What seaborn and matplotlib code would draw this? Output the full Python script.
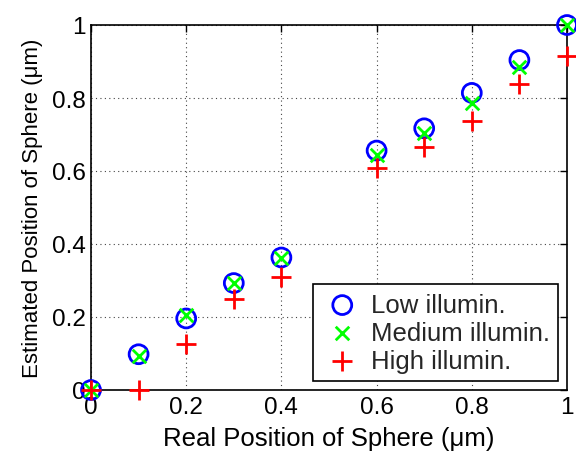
import matplotlib
matplotlib.use("Agg")
import matplotlib.pyplot as plt
import seaborn as sns
import pandas as pd

real_pos = [0.0, 0.1, 0.2, 0.3, 0.4, 0.6, 0.7, 0.8, 0.9, 1.0]
low_illum = [0.0, 0.098, 0.196, 0.293, 0.363, 0.656, 0.717, 0.814, 0.904, 1.0]
medium_illum = [0.0, 0.094, 0.205, 0.293, 0.363, 0.645, 0.704, 0.786, 0.886, 1.0]
high_illum = [0.0, 0.0, 0.126, 0.249, 0.310, 0.607, 0.667, 0.736, 0.838, 0.916]
tick_vals = [0, 0.2, 0.4, 0.6, 0.8, 1]
tick_labels = ["0", "0.2", "0.4", "0.6", "0.8", "1"]

sns.set_theme(style="white")
plt.rcParams['font.family'] = ['Liberation Sans', 'DejaVu Sans']

fig = plt.figure(figsize=(5.76, 4.56), dpi=100)
ax = fig.add_axes([91/576, 1 - 391/456, (567 - 91)/576, (391 - 26)/456])

df_low = pd.DataFrame({"x": real_pos, "y": low_illum})
df_med = pd.DataFrame({"x": real_pos, "y": medium_illum})
df_high = pd.DataFrame({"x": real_pos, "y": high_illum})

sns.scatterplot(data=df_low, x="x", y="y", ax=ax, marker="o", s=185,
                facecolor="none", edgecolor="#0000ff", linewidth=2.0,
                label="Low illumin.", clip_on=False, zorder=3)
sns.scatterplot(data=df_med, x="x", y="y", ax=ax, marker="x", s=95,
                color="#00ff00", linewidth=2.0,
                label="Medium illumin.", clip_on=False, zorder=4)
sns.scatterplot(data=df_high, x="x", y="y", ax=ax, marker="+", s=200,
                color="#ff0000", linewidth=2.0,
                label="High illumin.", clip_on=False, zorder=5)

ax.set_xlim(0, 1)
ax.set_ylim(0, 1)
ax.set_xticks(tick_vals)
ax.set_xticklabels(tick_labels)
ax.set_yticks(tick_vals)
ax.set_yticklabels(tick_labels)
ax.tick_params(direction="in", length=5, width=1, top=True, right=True,
               labelsize=17.5, colors="black", pad=4)
ax.grid(True, linestyle=(0, (1, 3)), color="#444444", linewidth=0.8)
for sp in ax.spines.values():
    sp.set_visible(True)
    sp.set_color("black")
    sp.set_linewidth(1.2)

ax.set_xlabel("Real Position of Sphere (\u03bcm)", fontsize=18.5, color="black", labelpad=6)
ax.set_ylabel("Estimated Position of Sphere (\u03bcm)", fontsize=16, color="black", labelpad=6)

leg = ax.legend(loc="lower right", fontsize=18.5, frameon=True, fancybox=False,
                edgecolor="black", framealpha=1, borderaxespad=0.35,
                handlelength=1.6, handletextpad=0.3, labelspacing=0.15,
                borderpad=0.33)
leg.get_frame().set_linewidth(1.2)

fig.savefig("out.png", dpi=100)
